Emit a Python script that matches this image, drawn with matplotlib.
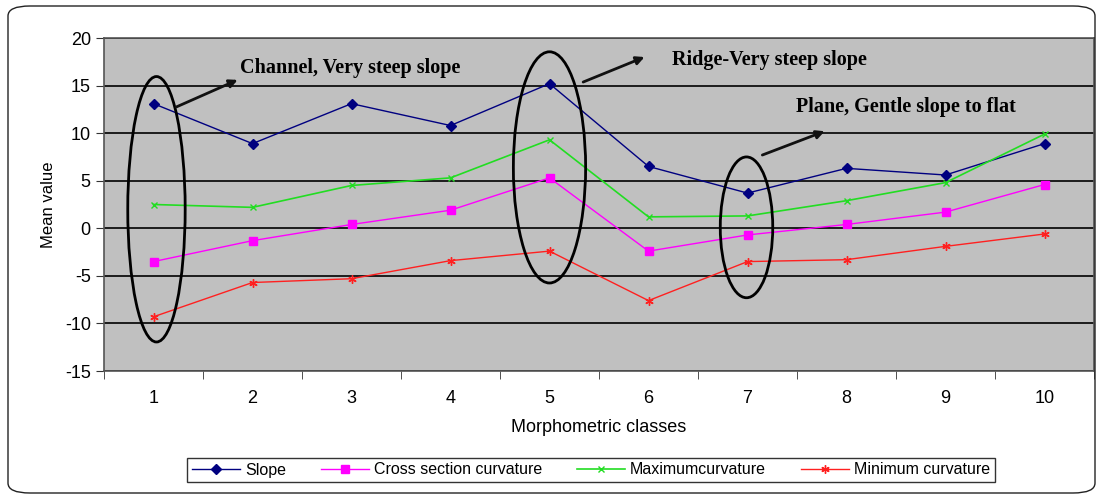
import numpy as np
import matplotlib
matplotlib.use("Agg")
import matplotlib.pyplot as plt
from matplotlib.patches import Ellipse, FancyBboxPatch

plt.rcParams['font.family'] = ['Liberation Sans', 'DejaVu Sans']
plt.rcParams['axes.unicode_minus'] = False

# data
classes = [1, 2, 3, 4, 5, 6, 7, 8, 9, 10]
slope = [13.1, 8.9, 13.1, 10.8, 15.2, 6.5, 3.7, 6.3, 5.6, 8.9]
cross_section = [-3.5, -1.3, 0.4, 1.9, 5.3, -2.4, -0.7, 0.4, 1.7, 4.6]
max_curv = [2.5, 2.2, 4.5, 5.3, 9.3, 1.2, 1.3, 2.9, 4.8, 9.9]
min_curv = [-9.3, -5.7, -5.3, -3.4, -2.4, -7.6, -3.5, -3.3, -1.9, -0.6]
yticks = [-15, -10, -5, 0, 5, 10, 15, 20]

fig = plt.figure(figsize=(10.97, 4.97), dpi=100)

# rounded frame round the whole chart
frame = FancyBboxPatch((8/1097, 4/497), 1087/1097, 487/497,
                       boxstyle="round,pad=0,rounding_size=0.02",
                       transform=fig.transFigure, fill=False,
                       edgecolor='#222222', linewidth=1.0)
fig.patches.append(frame)

ax = fig.add_axes([104/1097, 1 - 371/497, 990/1097, 333/497])
ax.set_facecolor('#c0c0c0')

ax.plot(classes, slope, color='#000080', marker='D', markersize=5, lw=1.0, label='Slope')
ax.plot(classes, cross_section, color='#ff00ff', marker='s', markersize=6, lw=1.0,
        label='Cross section curvature')
ax.plot(classes, max_curv, color='#22dd22', marker='x', markersize=5, mew=1.0, lw=1.2,
        label='Maximumcurvature')
ax.plot(classes, min_curv, color='#ff2020', marker=(6, 2, 0), markersize=6, mew=1.0, lw=1.0,
        label='Minimum curvature')

ax.set_xlim(0.5, 10.5)
ax.set_ylim(-15, 20)
ax.set_yticks(yticks)
ax.set_xticks(classes)
ax.set_xticks(np.arange(0.5, 11, 1), minor=True)
ax.tick_params(axis='x', which='major', length=0, labelsize=13, pad=14)
ax.tick_params(axis='x', which='minor', length=6, direction='out', color='#333333')
ax.tick_params(axis='y', length=6, direction='out', labelsize=13, color='#333333')
ax.yaxis.grid(True, color='black', lw=1.2)
ax.set_axisbelow(True)
for s in ax.spines.values():
    s.set_color('#555555')
    s.set_linewidth(1.2)

ax.set_xlabel('Morphometric classes', fontsize=13, labelpad=8)
ax.set_ylabel('Mean value', fontsize=12, labelpad=6)

# ellipses round the groups of classes
for cx, cy, w, h in [(1.03, 2.0, 0.58, 27.9), (5.0, 6.4, 0.73, 24.3), (6.99, 0.1, 0.53, 14.8)]:
    ax.add_patch(Ellipse((cx, cy), w, h, fill=False, edgecolor='black', lw=2.0, zorder=5))

serif = dict(family='Liberation Serif', weight='bold', fontsize=14.5, va='center', ha='left')
notes = [("Channel, Very steep slope", (1.87, 16.8), (1.23, 12.75), (1.85, 15.6)),
         ("Ridge-Very steep slope", (6.24, 17.7), (5.34, 15.37), (5.96, 18.0)),
         ("Plane, Gentle slope to flat", (7.49, 12.75), (7.15, 7.7), (7.78, 10.2))]
for txt, tpos, a0, a1 in notes:
    ax.text(tpos[0], tpos[1], txt, zorder=6, **serif)
    ax.annotate('', xy=a1, xytext=a0,
                arrowprops=dict(arrowstyle='-|>', color='#111111', lw=2.0,
                                mutation_scale=12, shrinkA=0, shrinkB=0), zorder=6)

leg = fig.legend(loc='center', bbox_to_anchor=(591/1097, 1 - 470/497), ncol=4,
                 fontsize=11.5, frameon=True, fancybox=False, edgecolor='black',
                 handlelength=3.0, columnspacing=2.2, borderpad=0.3, handletextpad=0.3)
leg.get_frame().set_linewidth(1.0)

fig.savefig('out.png', dpi=100)
